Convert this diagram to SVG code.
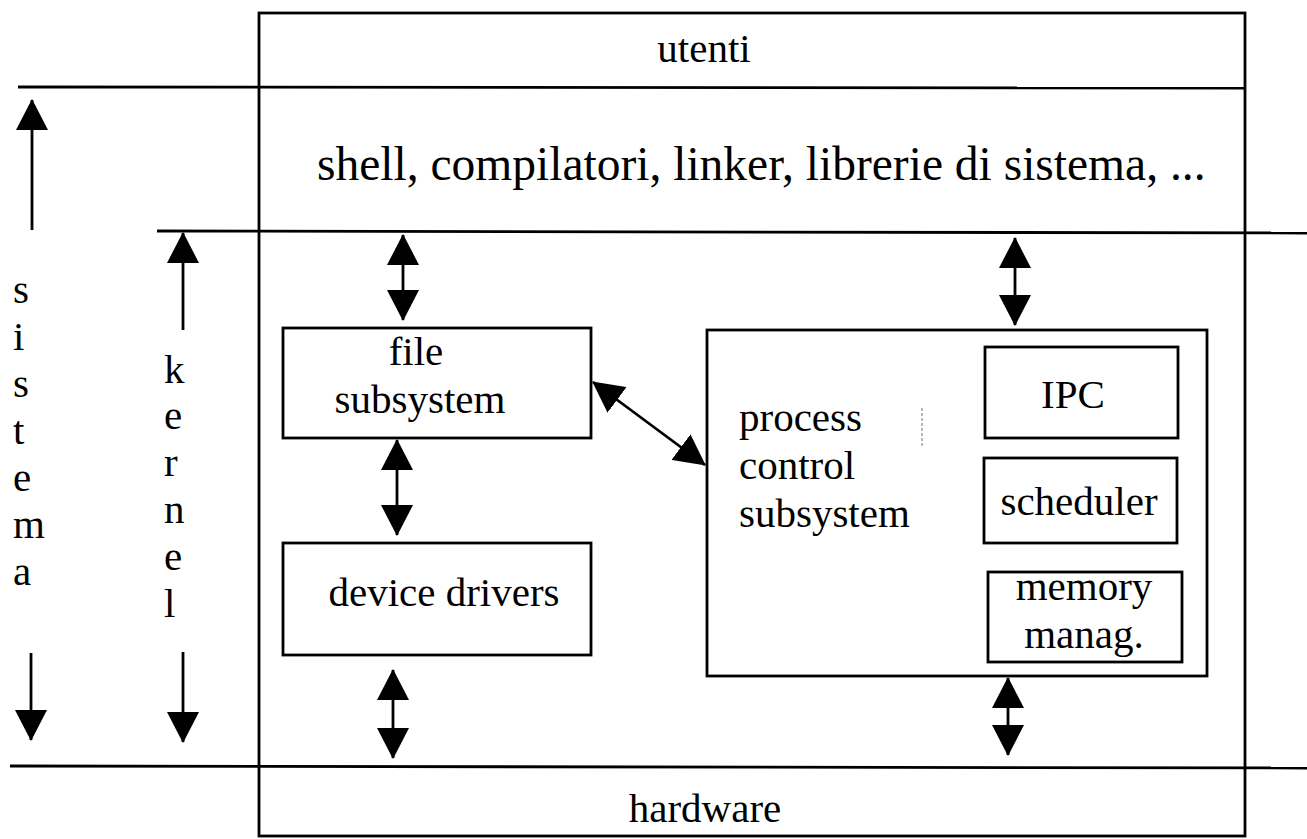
<svg xmlns="http://www.w3.org/2000/svg" width="1307" height="839" viewBox="0 0 1307 839">
<style>
  .ln { stroke:#000; stroke-width:2.8; fill:none; }
  .box { stroke:#000; stroke-width:2.8; fill:none; }
  .t { font-family:"Liberation Serif","Times New Roman",serif; font-size:41px; fill:#000; }
  .tm { text-anchor:middle; }
  .ar { stroke:#000; stroke-width:2.8; fill:none; marker-end:url(#head); }
  .bi { stroke:#000; stroke-width:2.8; fill:none; marker-start:url(#head); marker-end:url(#head); }
</style>
<defs>
  <marker id="head" markerUnits="userSpaceOnUse" viewBox="0 0 31 32" refX="30" refY="16" markerWidth="31" markerHeight="32" orient="auto-start-reverse">
    <path d="M0,0 L31,16 L0,32 z" fill="#000"/>
  </marker>
</defs>
<rect width="1307" height="839" fill="#fff"/>

<g id="frame">
  <rect class="box" x="259" y="13" width="986" height="823"/>
  <line class="ln" x1="18" y1="87" x2="1245" y2="88"/>
  <line class="ln" x1="157" y1="231" x2="1307" y2="233"/>
  <line class="ln" x1="10" y1="766" x2="1307" y2="768"/>
</g>

<g id="utenti"><text class="t tm" x="704" y="62">utenti</text></g>
<g id="applicazioni"><text class="t" x="317" y="180" style="font-size:47.5px">shell, compilatori, linker, librerie di sistema, ...</text></g>
<g id="hardware"><text class="t tm" x="705" y="822">hardware</text></g>

<g id="sistema-label">
  <text class="t" x="13" y="303">s</text>
  <text class="t" x="13" y="350">i</text>
  <text class="t" x="13" y="397">s</text>
  <text class="t" x="13" y="444">t</text>
  <text class="t" x="13" y="491">e</text>
  <text class="t" x="13" y="538">m</text>
  <text class="t" x="13" y="585">a</text>
</g>
<g id="kernel-label">
  <text class="t" x="164" y="383">k</text>
  <text class="t" x="164" y="429">e</text>
  <text class="t" x="164" y="476">r</text>
  <text class="t" x="164" y="523">n</text>
  <text class="t" x="164" y="570">e</text>
  <text class="t" x="164" y="617">l</text>
</g>

<g id="file-subsystem">
  <rect class="box" x="283" y="328" width="308" height="110"/>
  <text class="t tm" x="416" y="365">file</text>
  <text class="t tm" x="420" y="413">subsystem</text>
</g>
<g id="device-drivers">
  <rect class="box" x="283" y="543" width="308" height="112"/>
  <text class="t tm" x="444" y="606">device drivers</text>
</g>
<g id="process-control">
  <rect class="box" x="707" y="330" width="500" height="346"/>
  <text class="t" x="739" y="431">process</text>
  <text class="t" x="739" y="479">control</text>
  <text class="t" x="739" y="527">subsystem</text>
  <line x1="922" y1="408" x2="922" y2="447" stroke="#888" stroke-width="1.2" stroke-dasharray="3 2"/>
</g>
<g id="ipc">
  <rect class="box" x="985" y="347" width="193" height="91"/>
  <text class="t tm" x="1073" y="408">IPC</text>
</g>
<g id="scheduler">
  <rect class="box" x="984" y="458" width="193" height="85"/>
  <text class="t tm" x="1079" y="515">scheduler</text>
</g>
<g id="memory">
  <rect class="box" x="988" y="572" width="194" height="90"/>
  <text class="t tm" x="1084" y="600">memory</text>
  <text class="t tm" x="1084" y="648">manag.</text>
</g>

<g id="connectors">
  <line class="ar" x1="32" y1="230" x2="32" y2="100"/>
  <line class="ar" x1="31" y1="653" x2="31" y2="740"/>
  <line class="ar" x1="183" y1="330" x2="183" y2="233"/>
  <line class="ar" x1="183" y1="652" x2="183" y2="742"/>
  <line class="bi" x1="403" y1="235" x2="403" y2="320"/>
  <line class="bi" x1="1015" y1="238" x2="1015" y2="325"/>
  <line class="bi" x1="397" y1="440" x2="397" y2="535"/>
  <line class="bi" x1="393" y1="670" x2="393" y2="758"/>
  <line class="bi" x1="1008" y1="678" x2="1008" y2="755"/>
  <line class="bi" x1="593" y1="382" x2="705" y2="465"/>
</g>
</svg>
